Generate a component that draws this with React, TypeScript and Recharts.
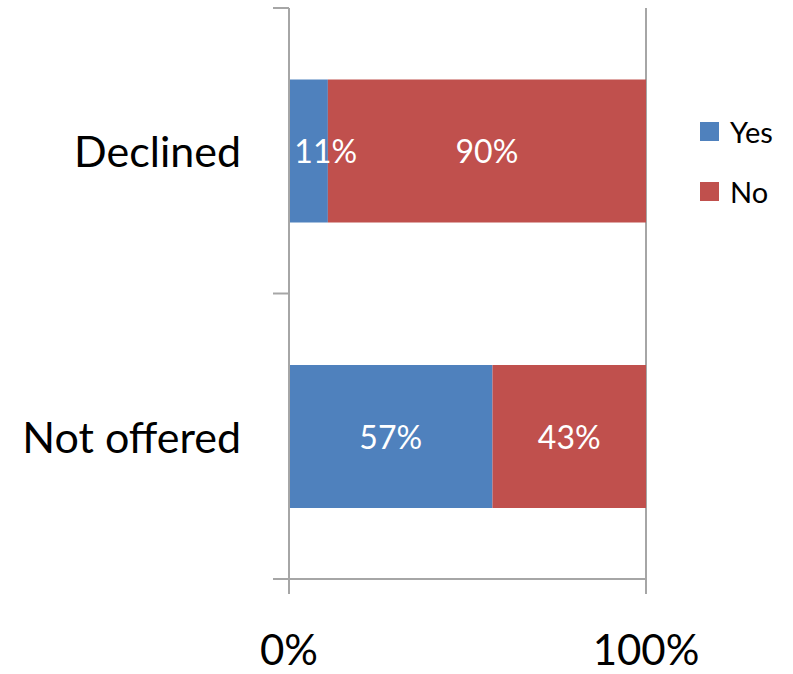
import React from "react"
import { BarChart, Bar, XAxis, YAxis, CartesianGrid, LabelList } from "recharts"

const categories = ["Declined", "Not offered"]
const yesValues = [11, 57]
const noValues = [90, 43]
const xTicks = [0, 1]

const seriesNames = ["Yes", "No"]
const COLORS = ["#4F81BD", "#C0504D"]
const AXIS = "#A6A6A6"
const FONT = "Lato, 'Open Sans', sans-serif"

const data = categories.map((name, i) => ({ name, yes: yesValues[i], no: noValues[i] }))

// half of one category band (plot is 571px tall, 2 categories)
const HALF_BAND = 571 / categories.length / 2

function CategoryTick(props: any) {
  const { x, y, payload, index, visibleTicksCount } = props
  const last = index === visibleTicksCount - 1
  return (
    <g>
      <line x1={x - 16} x2={x} y1={y - HALF_BAND} y2={y - HALF_BAND} stroke={AXIS} strokeWidth={2} />
      {last && <line x1={x - 16} x2={x} y1={y + HALF_BAND} y2={y + HALF_BAND} stroke={AXIS} strokeWidth={2} />}
      <text x={x - 48} y={y} textAnchor="end" dominantBaseline="central" fontSize={43} fill="#000" fontFamily={FONT}>
        {payload.value}
      </text>
    </g>
  )
}

function BarLabel(props: any) {
  const { x, y, width, height, value } = props
  const text = `${value}%`
  const tw = text.length * 20.5
  const cx = Math.max(x + width / 2, x + 6 + tw / 2)
  return (
    <text x={cx} y={y + height / 2} textAnchor="middle" dominantBaseline="central" fontSize={32} fill="#fff" fontFamily={FONT}>
      {text}
    </text>
  )
}

export default function App() {
  return (
    <div style={{ position: "absolute", left: 0, top: 0, width: 793, height: 674, background: "#fff", fontFamily: FONT }}>
      <BarChart
        width={793}
        height={674}
        data={data}
        layout="vertical"
        stackOffset="expand"
        barCategoryGap="25%"
        margin={{ top: 8, right: 147, bottom: 0, left: 0 }}
      >
        <CartesianGrid horizontal={false} stroke={AXIS} strokeWidth={2} />
        <XAxis
          type="number"
          domain={[0, 1]}
          ticks={xTicks}
          allowDataOverflow
          height={95}
          tickSize={15}
          tickMargin={41}
          stroke={AXIS}
          axisLine={{ stroke: AXIS, strokeWidth: 2 }}
          tickLine={{ stroke: AXIS, strokeWidth: 2 }}
          tick={{ fontSize: 42, fill: "#000", fontFamily: FONT }}
          tickFormatter={(v: number) => `${Math.round(v * 100)}%`}
        />
        <YAxis
          type="category"
          dataKey="name"
          width={289}
          tickSize={0}
          tickMargin={0}
          tickLine={false}
          axisLine={{ stroke: AXIS, strokeWidth: 2 }}
          tick={<CategoryTick />}
        />
        <Bar dataKey="yes" name={seriesNames[0]} stackId="a" fill={COLORS[0]} isAnimationActive={false}>
          <LabelList dataKey="yes" content={<BarLabel />} />
        </Bar>
        <Bar dataKey="no" name={seriesNames[1]} stackId="a" fill={COLORS[1]} isAnimationActive={false}>
          <LabelList dataKey="no" content={<BarLabel />} />
        </Bar>
      </BarChart>
      {seriesNames.map((s, i) => (
        <div
          key={s}
          style={{ position: "absolute", left: 700, top: 111 + i * 60, height: 40, display: "flex", alignItems: "center" }}
        >
          <div style={{ width: 19, height: 19, background: COLORS[i], marginRight: 11 }} />
          <span style={{ fontSize: 29, lineHeight: 1, color: "#000" }}>{s}</span>
        </div>
      ))}
    </div>
  )
}
